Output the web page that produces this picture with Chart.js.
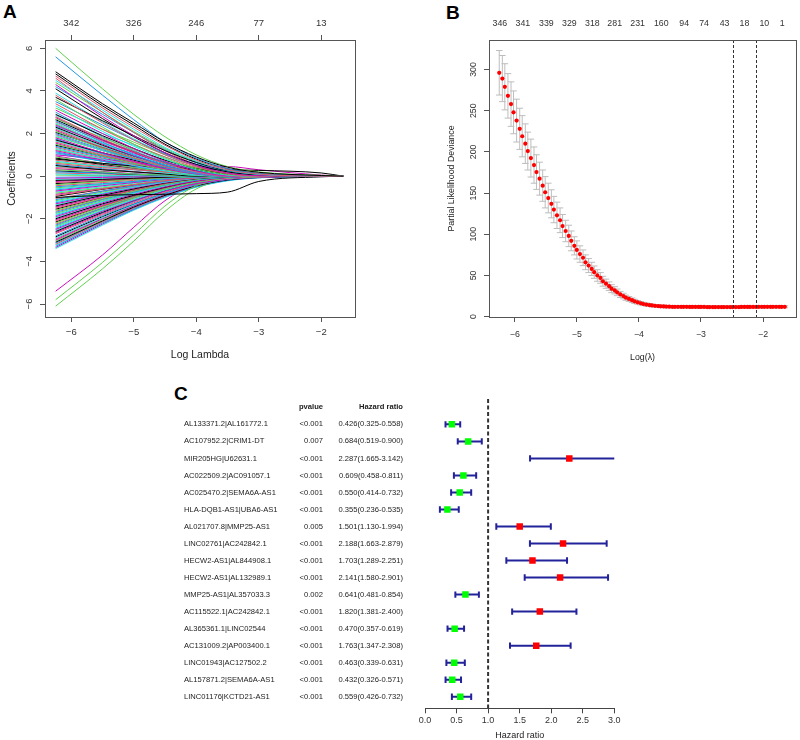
<!DOCTYPE html>
<html>
<head>
<meta charset="utf-8">
<script src="https://cdn.jsdelivr.net/npm/chart.js@4.4.0/dist/chart.umd.min.js"></script>
<style>
html, body { margin: 0; padding: 0; background: #fff; overflow: hidden; }
#wrap { position: relative; width: 800px; height: 740px; font-family: 'Liberation Sans', Arial, sans-serif; }
canvas { position: absolute; }
.tag { position: absolute; font-weight: bold; font-size: 19px; line-height: 1; color: #000; }
</style>
</head>
<body>
<div id="wrap">
  <div class="tag" style="left:3px;top:2px">A</div>
  <div class="tag" style="left:446px;top:3px">B</div>
  <div class="tag" style="left:174px;top:384px">C</div>
  <canvas id="coefChart" width="400" height="380" style="left:0;top:0"></canvas>
  <canvas id="cvChart" width="400" height="380" style="left:400px;top:0"></canvas>
  <canvas id="forestChart" width="460" height="360" style="left:180px;top:380px"></canvas>
</div>
<script>
// ---- panel A : coefficient paths ----
const coefX = [-6.25, -5.5, -5.0, -4.5, -4.0, -3.5, -3.0, -2.0, -1.65];
const coefPaths = [
  [4.9, 3.4, 2.5, 1.6, 0.9, 0.42, 0.18, 0.03, 0],
  [4.7, 3.2, 2.3, 1.45, 0.75, 0.3, 0.1, 0, 0],
  [6.0, 4.1, 2.9, 1.85, 1.0, 0.45, 0.2, 0.04, 0],
  [5.6, 3.8, 2.65, 1.6, 0.85, 0.35, 0.12, 0.02, 0],
  [4.5, 3.1, 2.2, 1.35, 0.7, 0.28, 0.08, 0, 0],
  [4.3, 2.8, 1.9, 1.1, 0.5, 0.15, 0.02, 0, 0],
  [4.1, 2.7, 1.85, 1.1, 0.55, 0.2, 0.05, 0, 0],
  [3.8, 2.5, 1.7, 1.0, 0.45, 0.12, 0, 0, 0],
  [3.6, 2.3, 1.5, 0.85, 0.35, 0.08, 0, 0, 0],
  [3.5, 2.4, 1.7, 1.05, 0.55, 0.22, 0.06, 0, 0],
  [3.3, 2.1, 1.4, 0.8, 0.3, 0.05, 0, 0, 0],
  [3.1, 2.0, 1.3, 0.7, 0.25, 0.02, 0, 0, 0],
  [2.9, 1.9, 1.3, 0.75, 0.35, 0.1, 0, 0, 0],
  [2.8, 1.75, 1.15, 0.6, 0.2, 0, 0, 0, 0],
  [2.7, 1.8, 1.25, 0.75, 0.4, 0.15, 0.03, 0, 0],
  [2.6, 1.6, 1.0, 0.5, 0.15, 0, 0, 0, 0],
  [2.5, 1.55, 1.0, 0.55, 0.2, 0.02, 0, 0, 0],
  [2.4, 1.5, 0.95, 0.5, 0.18, 0, 0, 0, 0],
  [2.3, 1.45, 0.95, 0.55, 0.25, 0.05, 0, 0, 0],
  [2.2, 1.35, 0.85, 0.45, 0.15, 0, 0, 0, 0],
  [2.1, 1.3, 0.85, 0.45, 0.2, 0.03, 0, 0, 0],
  [2.0, 1.25, 0.8, 0.4, 0.12, 0, 0, 0, 0],
  [1.9, 1.2, 0.8, 0.45, 0.2, 0.05, 0, 0, 0],
  [1.8, 1.1, 0.7, 0.35, 0.1, 0, 0, 0, 0],
  [1.7, 1.1, 0.75, 0.45, 0.25, 0.12, 0.05, 0, 0],
  [1.6, 1.0, 0.65, 0.35, 0.12, 0, 0, 0, 0],
  [1.5, 0.95, 0.6, 0.3, 0.1, 0, 0, 0, 0],
  [1.4, 0.9, 0.6, 0.35, 0.15, 0.03, 0, 0, 0],
  [1.3, 0.8, 0.5, 0.25, 0.06, 0, 0, 0, 0],
  [1.2, 0.75, 0.5, 0.3, 0.15, 0.05, 0, 0, 0],
  [0.8, 0.6, 0.48, 0.4, 0.35, 0.3, 0.27, 0.15, 0],
  [0.6, 0.4, 0.3, 0.2, 0.1, 0.05, 0.02, 0, 0],
  [0.9, 0.6, 0.4, 0.2, 0.05, 0, 0, 0, 0],
  [1.1, 0.7, 0.45, 0.22, 0.05, 0, 0, 0, 0],
  [0.7, 0.45, 0.3, 0.15, 0.03, 0, 0, 0, 0],
  [1.0, 0.8, 0.65, 0.5, 0.42, 0.45, 0.3, 0.05, 0],
  [0.5, 0.3, 0.2, 0.1, 0, 0, 0, 0, 0],
  [0.4, 0.3, 0.2, 0.12, 0.05, 0, 0, 0, 0],
  [0.3, 0.2, 0.1, 0.05, 0, 0, 0, 0, 0],
  [0.2, 0.15, 0.1, 0.05, 0.02, 0, 0, 0, 0],
  [0.1, 0.05, 0.02, 0, 0, 0, 0, 0, 0],
  [-0.1, -0.06, -0.03, 0, 0, 0, 0, 0, 0],
  [-0.2, -0.15, -0.1, -0.05, 0, 0, 0, 0, 0],
  [-0.3, -0.2, -0.12, -0.05, 0, 0, 0, 0, 0],
  [-0.4, -0.25, -0.15, -0.08, -0.02, 0, 0, 0, 0],
  [-0.5, -0.35, -0.25, -0.12, -0.04, 0, 0, 0, 0],
  [-0.6, -0.4, -0.25, -0.12, -0.03, 0, 0, 0, 0],
  [-0.7, -0.45, -0.3, -0.15, -0.05, 0, 0, 0, 0],
  [-1.0, -0.9, -0.87, -0.85, -0.82, -0.75, -0.25, -0.03, 0],
  [-0.9, -0.6, -0.4, -0.22, -0.08, 0, 0, 0, 0],
  [-0.8, -0.55, -0.38, -0.2, -0.06, 0, 0, 0, 0],
  [-1.1, -0.7, -0.45, -0.25, -0.08, 0, 0, 0, 0],
  [-1.2, -0.8, -0.52, -0.28, -0.1, -0.02, 0, 0, 0],
  [-1.3, -0.85, -0.55, -0.3, -0.1, 0, 0, 0, 0],
  [-1.4, -0.9, -0.6, -0.32, -0.12, -0.02, 0, 0, 0],
  [-1.5, -1.0, -0.65, -0.35, -0.12, 0, 0, 0, 0],
  [-1.6, -1.05, -0.7, -0.4, -0.15, -0.03, 0, 0, 0],
  [-1.7, -1.1, -0.75, -0.42, -0.18, -0.05, 0, 0, 0],
  [-1.8, -1.2, -0.8, -0.45, -0.18, -0.04, 0, 0, 0],
  [-1.9, -1.25, -0.85, -0.5, -0.22, -0.06, 0, 0, 0],
  [-2.0, -1.3, -0.9, -0.52, -0.22, -0.05, 0, 0, 0],
  [-2.1, -1.4, -0.95, -0.55, -0.25, -0.08, -0.02, 0, 0],
  [-2.2, -1.45, -1.0, -0.6, -0.28, -0.1, -0.03, 0, 0],
  [-2.3, -1.5, -1.0, -0.58, -0.25, -0.06, 0, 0, 0],
  [-2.4, -1.6, -1.1, -0.65, -0.3, -0.1, -0.02, 0, 0],
  [-2.5, -1.65, -1.15, -0.7, -0.35, -0.14, -0.05, 0, 0],
  [-2.6, -1.7, -1.15, -0.68, -0.3, -0.08, 0, 0, 0],
  [-2.7, -1.8, -1.25, -0.75, -0.36, -0.13, -0.03, 0, 0],
  [-5.8, -4.05, -2.75, -1.4, -0.45, -0.08, 0, 0, 0],
  [-2.8, -1.85, -1.3, -0.8, -0.4, -0.15, -0.05, 0, 0],
  [-2.9, -1.95, -1.35, -0.82, -0.4, -0.14, -0.04, 0, 0],
  [-3.0, -2.0, -1.4, -0.85, -0.42, -0.15, -0.05, 0, 0],
  [-3.1, -2.1, -1.45, -0.9, -0.45, -0.18, -0.06, -0.01, 0],
  [-3.2, -2.15, -1.5, -0.92, -0.45, -0.16, -0.04, 0, 0],
  [-6.1, -4.35, -3.05, -1.65, -0.6, -0.12, 0, 0, 0],
  [-3.3, -2.2, -1.55, -0.95, -0.5, -0.2, -0.07, -0.01, 0],
  [-3.4, -2.3, -1.6, -1.0, -0.52, -0.22, -0.08, -0.02, 0],
  [-5.4, -3.7, -2.4, -1.15, -0.35, -0.05, 0, 0, 0],
  [3.7, 2.6, 1.9, 1.2, 0.65, 0.25, 0.08, 0, 0],
  [3.4, 2.2, 1.5, 0.9, 0.4, 0.12, 0.02, 0, 0],
  [3.2, 2.2, 1.6, 1.0, 0.5, 0.2, 0.06, 0, 0],
  [3.0, 1.85, 1.2, 0.65, 0.25, 0.05, 0, 0, 0],
  [2.85, 2.0, 1.45, 0.9, 0.5, 0.22, 0.08, 0, 0],
  [2.75, 1.7, 1.1, 0.55, 0.18, 0, 0, 0, 0],
  [2.65, 1.7, 1.15, 0.65, 0.3, 0.08, 0, 0, 0],
  [2.55, 1.65, 1.1, 0.65, 0.3, 0.1, 0.02, 0, 0],
  [2.45, 1.5, 0.95, 0.48, 0.15, 0, 0, 0, 0],
  [2.35, 1.55, 1.05, 0.62, 0.3, 0.1, 0.02, 0, 0],
  [2.25, 1.4, 0.9, 0.5, 0.2, 0.04, 0, 0, 0],
  [2.15, 1.3, 0.8, 0.4, 0.1, 0, 0, 0, 0],
  [2.05, 1.35, 0.9, 0.52, 0.25, 0.08, 0.01, 0, 0],
  [1.95, 1.2, 0.75, 0.38, 0.12, 0, 0, 0, 0],
  [1.85, 1.2, 0.8, 0.48, 0.22, 0.06, 0, 0, 0],
  [1.75, 1.05, 0.65, 0.3, 0.08, 0, 0, 0, 0],
  [1.65, 1.05, 0.7, 0.4, 0.18, 0.05, 0, 0, 0],
  [1.55, 0.95, 0.6, 0.3, 0.08, 0, 0, 0, 0],
  [1.45, 0.95, 0.65, 0.4, 0.2, 0.07, 0.02, 0, 0],
  [1.35, 0.85, 0.55, 0.3, 0.1, 0, 0, 0, 0],
  [1.25, 0.8, 0.55, 0.32, 0.15, 0.04, 0, 0, 0],
  [1.15, 0.7, 0.45, 0.22, 0.06, 0, 0, 0, 0],
  [1.05, 0.7, 0.5, 0.3, 0.15, 0.05, 0, 0, 0],
  [0.95, 0.6, 0.4, 0.2, 0.06, 0, 0, 0, 0],
  [0.85, 0.55, 0.38, 0.22, 0.1, 0.02, 0, 0, 0],
  [0.75, 0.5, 0.32, 0.18, 0.06, 0, 0, 0, 0],
  [0.65, 0.45, 0.32, 0.2, 0.1, 0.03, 0, 0, 0],
  [0.55, 0.35, 0.22, 0.1, 0.02, 0, 0, 0, 0],
  [0.45, 0.3, 0.2, 0.1, 0.03, 0, 0, 0, 0],
  [0.35, 0.22, 0.12, 0.05, 0, 0, 0, 0, 0],
  [0.25, 0.15, 0.08, 0.02, 0, 0, 0, 0, 0],
  [0.15, 0.1, 0.05, 0.02, 0, 0, 0, 0, 0],
  [0.05, 0.03, 0.01, 0, 0, 0, 0, 0, 0],
  [-0.05, -0.03, -0.01, 0, 0, 0, 0, 0, 0],
  [-0.15, -0.1, -0.05, -0.02, 0, 0, 0, 0, 0],
  [-0.25, -0.15, -0.08, -0.02, 0, 0, 0, 0, 0],
  [-0.35, -0.22, -0.14, -0.06, 0, 0, 0, 0, 0],
  [-0.45, -0.3, -0.2, -0.1, -0.03, 0, 0, 0, 0],
  [-0.55, -0.38, -0.25, -0.14, -0.05, 0, 0, 0, 0],
  [-0.65, -0.42, -0.28, -0.14, -0.04, 0, 0, 0, 0],
  [-0.75, -0.5, -0.33, -0.18, -0.06, 0, 0, 0, 0],
  [-0.85, -0.58, -0.4, -0.22, -0.08, -0.01, 0, 0, 0],
  [-0.95, -0.62, -0.42, -0.22, -0.07, 0, 0, 0, 0],
  [-1.05, -0.7, -0.48, -0.28, -0.1, -0.02, 0, 0, 0],
  [-1.15, -0.75, -0.5, -0.27, -0.08, 0, 0, 0, 0],
  [-1.25, -0.82, -0.55, -0.32, -0.13, -0.03, 0, 0, 0],
  [-1.35, -0.88, -0.58, -0.31, -0.1, 0, 0, 0, 0],
  [-1.45, -0.95, -0.64, -0.36, -0.14, -0.03, 0, 0, 0],
  [-1.55, -1.0, -0.66, -0.36, -0.13, 0, 0, 0, 0],
  [-1.65, -1.08, -0.72, -0.4, -0.16, -0.04, 0, 0, 0],
  [-1.75, -1.15, -0.78, -0.45, -0.2, -0.06, 0, 0, 0],
  [-1.85, -1.2, -0.8, -0.44, -0.17, -0.03, 0, 0, 0],
  [-1.95, -1.3, -0.88, -0.5, -0.22, -0.06, 0, 0, 0],
  [-2.05, -1.35, -0.9, -0.52, -0.22, -0.05, 0, 0, 0],
  [-2.15, -1.4, -0.95, -0.55, -0.25, -0.08, -0.02, 0, 0],
  [-2.25, -1.5, -1.02, -0.6, -0.28, -0.1, -0.03, 0, 0],
  [-2.35, -1.55, -1.05, -0.6, -0.27, -0.07, 0, 0, 0],
  [-2.45, -1.62, -1.1, -0.65, -0.3, -0.1, -0.02, 0, 0],
  [-2.55, -1.7, -1.18, -0.7, -0.34, -0.13, -0.04, 0, 0],
  [-2.65, -1.75, -1.2, -0.7, -0.32, -0.1, -0.02, 0, 0],
  [-2.85, -1.9, -1.32, -0.8, -0.4, -0.15, -0.05, 0, 0],
  [-2.95, -1.98, -1.38, -0.84, -0.42, -0.16, -0.05, 0, 0],
  [-3.05, -2.05, -1.42, -0.86, -0.43, -0.15, -0.04, 0, 0],
  [-3.15, -2.12, -1.48, -0.9, -0.45, -0.17, -0.05, 0, 0],
  [-3.25, -2.2, -1.52, -0.93, -0.47, -0.18, -0.06, 0, 0],
  [-3.35, -2.25, -1.57, -0.97, -0.5, -0.2, -0.07, -0.01, 0],
  [4.8, 3.3, 2.4, 1.5, 0.8, 0.35, 0.12, 0.01, 0],
  [4.6, 3.0, 2.05, 1.2, 0.55, 0.18, 0.03, 0, 0],
  [4.4, 3.0, 2.1, 1.3, 0.68, 0.26, 0.07, 0, 0],
  [4.2, 2.9, 2.05, 1.25, 0.62, 0.22, 0.05, 0, 0],
  [3.9, 2.55, 1.75, 1.05, 0.5, 0.15, 0.02, 0, 0]
];
const coefXTicks = [-6, -5, -4, -3, -2];
const coefYTicks = [-6, -4, -2, 0, 2, 4, 6];
const coefTopLabels = ['342', '326', '246', '77', '13'];
const pathColors = ['#000000', '#DF536B', '#61D04F', '#2297E6', '#28E2E5', '#CD0BBC'];

// ---- panel B : cross-validation curve ----
const cvLogLambda = [
  -6.25, -6.20, -6.16, -6.11, -6.06, -6.02, -5.97, -5.92, -5.88, -5.83,
  -5.79, -5.74, -5.69, -5.65, -5.60, -5.55, -5.51, -5.46, -5.41, -5.37,
  -5.32, -5.27, -5.23, -5.18, -5.13, -5.09, -5.04, -5.00, -4.95, -4.90,
  -4.86, -4.81, -4.76, -4.72, -4.67, -4.62, -4.58, -4.53, -4.48, -4.44,
  -4.39, -4.35, -4.30, -4.25, -4.21, -4.16, -4.11, -4.07, -4.02, -3.97,
  -3.93, -3.88, -3.83, -3.79, -3.74, -3.69, -3.65, -3.60, -3.56, -3.51,
  -3.46, -3.42, -3.37, -3.32, -3.28, -3.23, -3.18, -3.14, -3.09, -3.04,
  -3.00, -2.95, -2.90, -2.86, -2.81, -2.77, -2.72, -2.67, -2.63, -2.58,
  -2.53, -2.49, -2.44, -2.39, -2.35, -2.30, -2.25, -2.21, -2.16, -2.11,
  -2.07, -2.02, -1.98, -1.93, -1.88, -1.84, -1.79, -1.74, -1.70, -1.65
];
const cvDeviance = [
  296, 289, 279, 268, 258, 248, 238, 228, 219, 210,
  201, 192.5, 184, 175.5, 167.5, 159, 151, 144, 137, 130,
  123, 117, 110, 104, 98, 92, 86, 81, 76, 71.5,
  66, 62, 58, 54, 50, 47, 43, 40, 37, 34,
  32, 29.5, 27, 25, 23, 21.5, 20, 18.6, 17.4, 16.3,
  15.4, 14.7, 14.1, 13.6, 13.2, 12.9, 12.6, 12.4, 12.2, 12.1,
  12.0, 12.0, 11.9, 11.9, 11.9, 11.9, 11.8, 11.8, 11.8, 11.8,
  11.8, 11.8, 11.7, 11.7, 11.7, 11.7, 11.7, 11.7, 11.7, 11.7,
  11.7, 11.7, 11.7, 11.7, 11.8, 11.8, 11.8, 11.8, 11.8, 11.8,
  11.9, 11.9, 11.9, 11.9, 11.9, 12.0, 12.0, 12.0, 12.0, 12.0
];
const cvSE = [
  27, 28, 28, 27, 27, 26, 26, 25, 25, 24,
  23, 23, 22, 21, 20, 19, 19, 18, 17, 16,
  16, 15, 14, 13, 13, 12, 11, 11, 10, 9.5,
  9, 8.5, 8, 7.5, 7, 6.5, 6, 5.6, 5.2, 4.8,
  4.4, 4.0, 3.7, 3.4, 3.1, 2.9, 2.7, 2.5, 2.3, 2.1,
  2.0, 1.9, 1.8, 1.7, 1.6, 1.5, 1.5, 1.4, 1.4, 1.3,
  1.3, 1.3, 1.3, 1.2, 1.2, 1.2, 1.2, 1.2, 1.2, 1.2,
  1.2, 1.2, 1.2, 1.2, 1.2, 1.2, 1.2, 1.2, 1.2, 1.2,
  1.2, 1.2, 1.2, 1.2, 1.2, 1.2, 1.2, 1.2, 1.2, 1.2,
  1.2, 1.2, 1.2, 1.2, 1.2, 1.2, 1.2, 1.2, 1.2, 1.2
];
const cvXTicks = [-6, -5, -4, -3, -2];
const cvYTicks = [0, 50, 100, 150, 200, 250, 300];
const cvTopPos = [-6.24, -5.87, -5.49, -5.12, -4.75, -4.39, -4.02, -3.64, -3.27, -2.95, -2.62, -2.30, -1.98, -1.69];
const cvTopLabels = ['346', '341', '339', '329', '318', '281', '231', '160', '94', '74', '43', '18', '10', '1'];
const lambdaMin = -2.49;
const lambda1se = -2.12;

// ---- panel C : forest plot ----
const genes = [
  'AL133371.2|AL161772.1', 'AC107952.2|CRIM1-DT', 'MIR205HG|U62631.1', 'AC022509.2|AC091057.1',
  'AC025470.2|SEMA6A-AS1', 'HLA-DQB1-AS1|UBA6-AS1', 'AL021707.8|MMP25-AS1', 'LINC02761|AC242842.1',
  'HECW2-AS1|AL844908.1', 'HECW2-AS1|AL132989.1', 'MMP25-AS1|AL357033.3', 'AC115522.1|AC242842.1',
  'AL365361.1|LINC02544', 'AC131009.2|AP003400.1', 'LINC01943|AC127502.2', 'AL157871.2|SEMA6A-AS1',
  'LINC01176|KCTD21-AS1'
];
const pvals = ['<0.001', '0.007', '<0.001', '<0.001', '<0.001', '<0.001', '0.005', '<0.001',
  '<0.001', '<0.001', '0.002', '<0.001', '<0.001', '<0.001', '<0.001', '<0.001', '<0.001'];
const hr = [0.426, 0.684, 2.287, 0.609, 0.550, 0.355, 1.501, 2.188, 1.703, 2.141, 0.641, 1.820, 0.470, 1.763, 0.463, 0.432, 0.559];
const hrLow = [0.325, 0.519, 1.665, 0.458, 0.414, 0.236, 1.130, 1.663, 1.289, 1.580, 0.481, 1.381, 0.357, 1.347, 0.339, 0.326, 0.426];
const hrHigh = [0.558, 0.900, 3.142, 0.811, 0.732, 0.535, 1.994, 2.879, 2.251, 2.901, 0.854, 2.400, 0.619, 2.308, 0.631, 0.571, 0.732];
const hrTicks = [0, 0.5, 1, 1.5, 2, 2.5, 3];

const FONT = "'Liberation Sans', Arial, sans-serif";
Chart.defaults.font.family = FONT;
Chart.defaults.color = '#333';

const minus = v => String(v).replace('-', '\u2212');

// R-like box around the plot region
const boxPlugin = {
  id: 'box',
  afterDraw(chart) {
    const a = chart.chartArea, ctx = chart.ctx;
    ctx.save();
    ctx.strokeStyle = '#555';
    ctx.lineWidth = 1;
    ctx.strokeRect(Math.round(a.left) + 0.5, Math.round(a.top) + 0.5,
      Math.round(a.right - a.left), Math.round(a.bottom - a.top));
    ctx.restore();
  }
};

function fixedTicks(list) {
  return s => { s.ticks = list.map(v => ({ value: v })); };
}

// ---------- A ----------
new Chart(document.getElementById('coefChart'), {
  type: 'line',
  data: {
    datasets: coefPaths.map((p, i) => ({
      data: p.map((v, j) => ({ x: coefX[j], y: v })),
      borderColor: pathColors[i % pathColors.length],
      borderWidth: 1,
      pointRadius: 0,
      cubicInterpolationMode: 'monotone',
      fill: false
    }))
  },
  options: {
    responsive: false,
    animation: false,
    layout: { padding: { left: 0, right: 45, top: 0, bottom: 3 } },
    plugins: { legend: { display: false }, tooltip: { enabled: false } },
    scales: {
      x: {
        type: 'linear', position: 'bottom', min: -6.42, max: -1.46,
        afterBuildTicks: fixedTicks(coefXTicks),
        afterFit: s => { s.height = 60; },
        border: { display: false },
        grid: { drawOnChartArea: false, tickLength: 5, color: '#555' },
        ticks: { font: { size: 9.5 }, padding: 5, maxRotation: 0, callback: v => minus(v) },
        title: { display: true, text: 'Log Lambda', color: '#222', font: { size: 10.5 }, padding: { bottom: 15.7 } }
      },
      xTop: {
        type: 'linear', position: 'top', min: -6.42, max: -1.46,
        afterBuildTicks: fixedTicks(coefXTicks),
        afterFit: s => { s.height = 40; },
        border: { display: false },
        grid: { drawOnChartArea: false, tickLength: 5, color: '#555' },
        ticks: { font: { size: 9.5 }, padding: 6, maxRotation: 0, callback: (v, i) => coefTopLabels[i] }
      },
      y: {
        type: 'linear', position: 'left', min: -6.61, max: 6.39,
        afterBuildTicks: fixedTicks(coefYTicks),
        afterFit: s => { s.width = 45; },
        border: { display: false },
        grid: { drawOnChartArea: false, tickLength: 5, color: '#555' },
        ticks: { font: { size: 9.5 }, padding: 5.6, minRotation: 90, maxRotation: 90, crossAlign: 'center', callback: v => minus(v) },
        title: { display: true, text: 'Coefficients', color: '#222', font: { size: 10.5 }, padding: { top: 5.7 } }
      }
    }
  },
  plugins: [boxPlugin]
});

// ---------- B ----------
const errorBars = {
  id: 'errorBars',
  beforeDatasetsDraw(chart) {
    const { ctx, scales: { x, y } } = chart;
    ctx.save();
    ctx.strokeStyle = '#BDBDBD';
    ctx.lineWidth = 1;
    cvLogLambda.forEach((lx, i) => {
      const px = x.getPixelForValue(lx);
      const hi = y.getPixelForValue(cvDeviance[i] + cvSE[i]);
      const lo = y.getPixelForValue(cvDeviance[i] - cvSE[i]);
      ctx.beginPath();
      ctx.moveTo(px, hi); ctx.lineTo(px, lo);
      ctx.moveTo(px - 3.3, hi); ctx.lineTo(px + 3.3, hi);
      ctx.moveTo(px - 3.3, lo); ctx.lineTo(px + 3.3, lo);
      ctx.stroke();
    });
    ctx.restore();
  }
};
const lambdaLines = {
  id: 'lambdaLines',
  afterDatasetsDraw(chart) {
    const { ctx, chartArea: a, scales: { x } } = chart;
    ctx.save();
    ctx.strokeStyle = '#333';
    ctx.lineWidth = 1;
    ctx.setLineDash([3, 2]);
    [lambdaMin, lambda1se].forEach(v => {
      const px = Math.round(x.getPixelForValue(v)) + 0.5;
      ctx.beginPath(); ctx.moveTo(px, a.top); ctx.lineTo(px, a.bottom); ctx.stroke();
    });
    ctx.restore();
  }
};

new Chart(document.getElementById('cvChart'), {
  type: 'scatter',
  data: {
    datasets: [{
      data: cvLogLambda.map((v, i) => ({ x: v, y: cvDeviance[i] })),
      pointRadius: 2.1,
      backgroundColor: '#FF0000',
      borderWidth: 0
    }]
  },
  options: {
    responsive: false,
    animation: false,
    layout: { padding: { left: 40, right: 1, top: 0, bottom: 3 } },
    plugins: { legend: { display: false }, tooltip: { enabled: false } },
    scales: {
      x: {
        type: 'linear', position: 'bottom', min: -6.415, max: -1.469,
        afterBuildTicks: fixedTicks(cvXTicks),
        afterFit: s => { s.height = 60; },
        border: { display: false },
        grid: { drawOnChartArea: false, tickLength: 5, color: '#555' },
        ticks: { font: { size: 8.8 }, padding: 7, maxRotation: 0, callback: v => minus(v) },
        title: { display: true, text: 'Log(\u03BB)', color: '#222', font: { size: 8.8 }, padding: { bottom: 14.5 } }
      },
      xTop: {
        type: 'linear', position: 'top', min: -6.415, max: -1.469,
        afterBuildTicks: fixedTicks(cvTopPos),
        afterFit: s => { s.height = 40; },
        border: { display: false },
        grid: { drawOnChartArea: false, drawTicks: false },
        ticks: { font: { size: 8.8 }, padding: 10.7, maxRotation: 0, autoSkip: false, callback: (v, i) => cvTopLabels[i] }
      },
      y: {
        type: 'linear', position: 'left', min: -0.4, max: 335.8,
        afterBuildTicks: fixedTicks(cvYTicks),
        afterFit: s => { s.width = 49; },
        border: { display: false },
        grid: { drawOnChartArea: false, tickLength: 5, color: '#555' },
        ticks: { font: { size: 8.8 }, padding: 2.7, minRotation: 90, maxRotation: 90, crossAlign: 'center' },
        title: { display: true, text: 'Partial Likelihood Deviance', color: '#222', font: { size: 8.8 }, padding: { top: 6.7 } }
      }
    }
  },
  plugins: [boxPlugin, errorBars, lambdaLines]
});

// ---------- C ----------
const ciColor = '#22229A';
const forestTable = {
  id: 'forestTable',
  afterDraw(chart) {
    const { ctx, scales: { y } } = chart;
    const colGene = 4, colP = 143, colHR = 223;
    ctx.save();
    ctx.fillStyle = '#222';
    ctx.textBaseline = 'middle';
    ctx.textAlign = 'right';
    ctx.font = 'bold 7.6px ' + FONT;
    const yh = y.getPixelForValue(0);
    ctx.fillText('pvalue', colP, yh);
    ctx.fillText('Hazard ratio', colHR, yh);
    ctx.font = '7.6px ' + FONT;
    genes.forEach((g, i) => {
      const py = y.getPixelForValue(i + 1);
      ctx.textAlign = 'left';
      ctx.fillText(g, colGene, py);
      ctx.textAlign = 'right';
      ctx.fillText(pvals[i], colP, py);
      ctx.fillText(hr[i].toFixed(3) + '(' + hrLow[i].toFixed(3) + '-' + hrHigh[i].toFixed(3) + ')', colHR, py);
    });
    ctx.restore();
  }
};

const forestSets = [{
  data: hr.map((v, i) => ({ x: v, y: i + 1 })),
  pointStyle: 'rect',
  pointRadius: 4.6,
  backgroundColor: hr.map(v => v < 1 ? '#00FF00' : '#FF0000'),
  borderWidth: 0,
  order: 0
}];
genes.forEach((g, i) => {
  forestSets.push({
    data: [{ x: hrLow[i], y: i + 1 }, { x: hrHigh[i], y: i + 1 }],
    showLine: true,
    borderColor: ciColor,
    borderWidth: 2,
    pointStyle: 'line',
    rotation: 90,
    pointRadius: 3.2,
    pointBorderColor: ciColor,
    pointBorderWidth: 2,
    order: 1
  });
});
forestSets.push({
  data: [{ x: 1, y: -0.49 }, { x: 1, y: 17.68 }],
  showLine: true,
  borderColor: '#333',
  borderWidth: 2,
  borderDash: [4, 2.5],
  pointRadius: 0,
  order: 2
});

new Chart(document.getElementById('forestChart'), {
  type: 'scatter',
  data: { datasets: forestSets },
  options: {
    responsive: false,
    animation: false,
    layout: { padding: { left: 245, right: 25.7, top: 19, bottom: 0 } },
    plugins: { legend: { display: false }, tooltip: { enabled: false } },
    scales: {
      x: {
        type: 'linear', position: 'bottom', min: 0, max: 3,
        afterBuildTicks: fixedTicks(hrTicks),
        afterFit: s => { s.height = 31.7; },
        border: { display: true, color: '#444', width: 1 },
        grid: { drawOnChartArea: false, tickLength: 5, color: '#444' },
        ticks: { font: { size: 9 }, padding: 1.5, maxRotation: 0, callback: v => v.toFixed(1) },
        title: { display: true, text: 'Hazard ratio', color: '#222', font: { size: 9, lineHeight: 1 }, padding: { top: 0, bottom: 0 } }
      },
      y: { type: 'linear', display: false, reverse: true, min: -0.49, max: 17.68 }
    }
  },
  plugins: [forestTable]
});
</script>
</body>
</html>
